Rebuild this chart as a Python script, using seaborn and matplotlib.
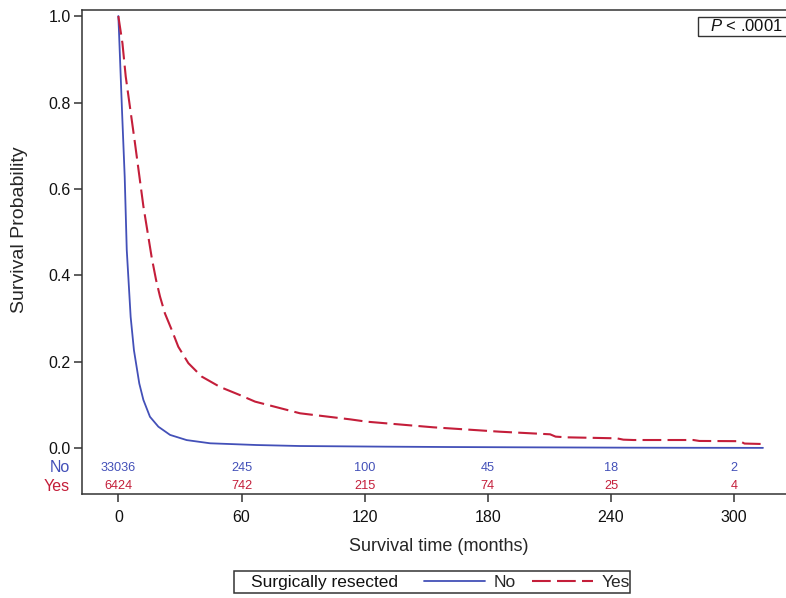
import numpy as np
import pandas as pd
import matplotlib
matplotlib.use("Agg")
import matplotlib.pyplot as plt
from matplotlib.lines import Line2D
from matplotlib.patches import Rectangle
from matplotlib.transforms import blended_transform_factory
import seaborn as sns

# survival curves (months, probability)
time_no = [0, 0.35, 1.8, 3.1, 4.1, 6.0, 7.6, 10.2, 12.2, 15.4, 19.5, 25.2,
           33.3, 44.7, 67.4, 88.5, 130, 160, 197, 247, 280, 314]
surv_no = [1.0, 0.96, 0.78, 0.628, 0.459, 0.304, 0.227, 0.150, 0.112, 0.073,
           0.05, 0.031, 0.019, 0.0116, 0.0076, 0.0053, 0.0038, 0.003, 0.0023,
           0.0015, 0.0012, 0.0010]

time_yes = [0, 2.0, 3.6, 8.1, 12.2, 16.3, 18.4, 20.3, 22.7, 26.0, 29.2, 34.1,
            40.6, 49.5, 59.3, 66.6, 88.5, 112.9, 121, 153.4, 185.9, 210.3,
            213, 218.4, 242.8, 246, 250.9, 280.1, 283, 302.8, 305, 314.2]
surv_yes = [1.0, 0.937, 0.86, 0.706, 0.56, 0.44, 0.389, 0.351, 0.312, 0.274,
            0.235, 0.197, 0.166, 0.142, 0.123, 0.108, 0.081, 0.067, 0.0616,
            0.0486, 0.0384, 0.0324, 0.0270, 0.0254, 0.0231, 0.0200, 0.0192,
            0.0192, 0.0170, 0.0165, 0.0110, 0.0099]

# number at risk
risk_times = [0, 60, 120, 180, 240, 300]
risk_no = [33036, 245, 100, 45, 18, 2]
risk_yes = [6424, 742, 215, 74, 25, 4]

groups = ["No", "Yes"]
colors = {"No": "#4350b8", "Yes": "#c41e3a"}

df = pd.concat([
    pd.DataFrame({"time": time_no, "surv": surv_no, "group": "No"}),
    pd.DataFrame({"time": time_yes, "surv": surv_yes, "group": "Yes"}),
])

sns.set_style("ticks")
plt.rcParams["font.family"] = ["Liberation Sans", "DejaVu Sans"]
plt.rcParams["mathtext.fontset"] = "custom"
plt.rcParams["mathtext.it"] = "Liberation Sans:italic"
plt.rcParams["mathtext.rm"] = "Liberation Sans"

W, H = 786, 598
fig = plt.figure(figsize=(W / 100, H / 100), dpi=100)
ax = fig.add_axes([82 / W, 1 - 494.3 / H, (795 - 82) / W, (494.3 - 10) / H])

sns.lineplot(data=df, x="time", y="surv", hue="group", style="group",
             palette=colors, dashes={"No": "", "Yes": (9, 3)},
             estimator=None, legend=False, ax=ax)
for ln, lw in zip(ax.lines, [1.3, 1.5]):
    ln.set_linewidth(lw)

ax.set_xlim(-17.7, 329.6)
ax.set_ylim(-0.1064, 1.014)
ax.set_xticks(risk_times)
ax.set_yticks(np.arange(0, 1.01, 0.2))
ax.yaxis.set_major_formatter(matplotlib.ticker.FormatStrFormatter("%.1f"))
ax.tick_params(axis="both", direction="out", length=5.5, width=1.1,
               color="#333333", labelcolor="#111111", labelsize=11.5)
ax.tick_params(axis="y", pad=2.5)
ax.tick_params(axis="x", pad=6)
for sp in ax.spines.values():
    sp.set_color("#333333")
    sp.set_linewidth(1.1)

ax.set_xlabel("Survival time (months)", fontsize=13, va="center")
ax.xaxis.set_label_coords(0.4997, -0.1088)
ax.set_ylabel("Survival Probability", fontsize=14, va="center")
ax.yaxis.set_label_coords(-0.087, 0.546)

# at-risk table inside the plot
trans = blended_transform_factory(ax.transAxes, ax.transData)
for name, vals, yrow in [("No", risk_no, -0.0449), ("Yes", risk_yes, -0.0872)]:
    ax.text(-0.0168, yrow, name, transform=trans, ha="right", va="center",
            fontsize=11.5, color=colors[name], clip_on=False)
    for t, v in zip(risk_times, vals):
        ax.text(t, yrow, str(v), ha="center", va="center", fontsize=9.2,
                color=colors[name])

# p-value box
ax.add_patch(Rectangle((0.8635, 0.9463), 0.2, 0.0399, transform=ax.transAxes,
                       fill=False, edgecolor="#333333", lw=1.0, clip_on=False))
ax.text(0.8808, 0.967, "$P$ < .0001", transform=ax.transAxes, ha="left",
        va="center", fontsize=12, color="#111111")

# legend below the plot
fig.patches.append(Rectangle((234 / W, 1 - 593 / H), (630 - 234) / W, 22 / H,
                             transform=fig.transFigure, fill=False,
                             edgecolor="#333333", lw=1.1))
fig.text(250.7 / W, 1 - 582 / H, "Surgically resected", ha="left",
         va="center", fontsize=12.5, color="#111111")
handles = [Line2D([], [], color=colors["No"], lw=1.3),
           Line2D([], [], color=colors["Yes"], lw=1.5, dashes=(9, 3))]
fig.legend(handles, groups, ncol=2, frameon=False, fontsize=12.5,
           handlelength=3.5, handletextpad=0.46, columnspacing=0.98,
           borderpad=0, borderaxespad=0, loc="center",
           bbox_to_anchor=(527 / W, 1 - 582 / H))

fig.savefig("out.png", dpi=100)
